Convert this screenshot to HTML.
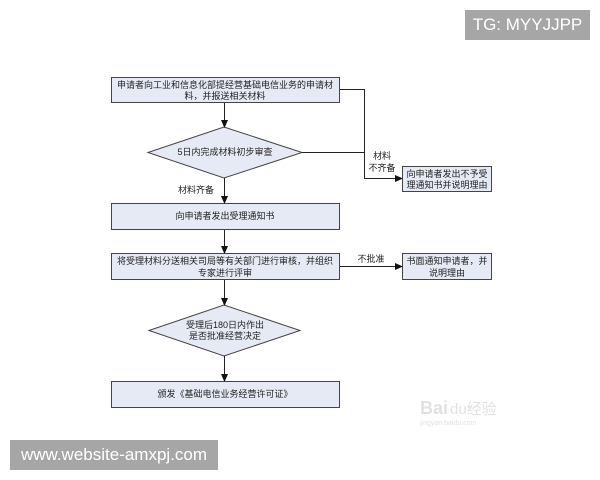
<!DOCTYPE html>
<html><head><meta charset="utf-8"><style>
body{margin:0;width:600px;height:480px;background:#fff;overflow:hidden;position:relative}
svg{position:absolute;left:0;top:0}
text{font-family:"Liberation Sans","Noto Sans CJK SC",sans-serif;font-size:9px;fill:#222}
.wm{position:absolute;background:#a6a6a6;color:#fff;font-family:"Liberation Sans",sans-serif;font-size:17px;display:flex;align-items:center;justify-content:center}
</style></head><body>
<svg width="600" height="480" viewBox="0 0 600 480">
<defs><marker id="a" markerWidth="8" markerHeight="8" refX="7" refY="4" orient="auto" markerUnits="userSpaceOnUse"><path d="M0,0.5 L8,4 L0,7.5z" fill="#111"/></marker></defs>
<g fill="#e6eaf5" stroke="#444" stroke-width="1">
<rect x="111.5" y="77.5" width="228" height="25"/>
<polygon points="148,152.5 224,127 302,152.5 224,178"/>
<rect x="111.5" y="203.5" width="228" height="26"/>
<rect x="111.5" y="253.5" width="228" height="26"/>
<polygon points="149,330.5 224,305 300,330.5 224,356"/>
<rect x="111.5" y="381.5" width="228" height="26"/>
<rect x="402.5" y="166.5" width="89" height="25"/>
<rect x="402.5" y="253.5" width="89" height="26"/>
</g>
<g stroke="#222" stroke-width="1" fill="none">
<line x1="224.5" y1="103" x2="224.5" y2="127" marker-end="url(#a)"/>
<line x1="224.5" y1="178" x2="224.5" y2="203" marker-end="url(#a)"/>
<line x1="224.5" y1="230" x2="224.5" y2="253" marker-end="url(#a)"/>
<line x1="224.5" y1="280" x2="224.5" y2="305" marker-end="url(#a)"/>
<line x1="224.5" y1="356" x2="224.5" y2="381" marker-end="url(#a)"/>
<polyline points="340,89.5 364.5,89.5 364.5,178.5 402,178.5" marker-end="url(#a)"/>
<line x1="302" y1="152.5" x2="364" y2="152.5"/>
<line x1="340" y1="266.5" x2="402" y2="266.5" marker-end="url(#a)"/>
</g>
<g text-anchor="middle">
<text x="225" y="88">申请者向工业和信息化部提经营基础电信业务的申请材</text>
<text x="225" y="99">料，并报送相关材料</text>
<text x="225" y="155">5日内完成材料初步审查</text>
<text x="196" y="193">材料齐备</text>
<text x="225" y="219">向申请者发出受理通知书</text>
<text x="225" y="264">将受理材料分送相关司局等有关部门进行审核，并组织</text>
<text x="225" y="276">专家进行评审</text>
<text x="225" y="328">受理后180日内作出</text>
<text x="225" y="339">是否批准经营决定</text>
<text x="225" y="397">颁发《基础电信业务经营许可证》</text>
<text x="447" y="177">向申请者发出不予受</text>
<text x="447" y="188">理通知书并说明理由</text>
<text x="447" y="264">书面通知申请者，并</text>
<text x="447" y="276">说明理由</text>
<text x="382" y="159">材料</text>
<text x="382" y="171">不齐备</text>
<text x="371" y="262">不批准</text>
</g>
<text x="420" y="414" style="font-size:18px;fill:#e2e2e2;font-weight:bold">Bai</text>
<text x="450" y="414" style="font-size:15px;fill:#e2e2e2">du经验</text>
<text x="420" y="425" style="font-size:7px;fill:#e2e2e2">jingyan.baidu.com</text>
</svg>
<div class="wm" style="left:465px;top:10px;width:125px;height:30px">TG: MYYJJPP</div>
<div class="wm" style="left:10px;top:440px;width:208px;height:30px">www.website-amxpj.com</div>
</body></html>
